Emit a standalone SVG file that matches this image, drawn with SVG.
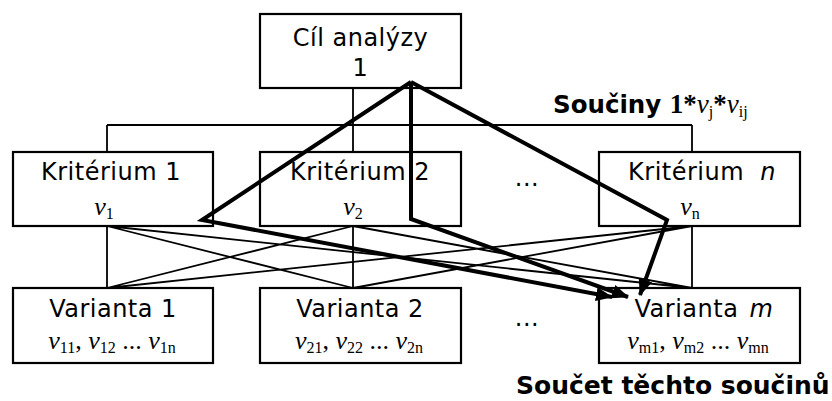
<svg xmlns="http://www.w3.org/2000/svg" width="832" height="401" viewBox="0 0 832 401">
<style>
.box{fill:#fff;stroke:#000;stroke-width:2.2}
.lbl{font-family:"DejaVu Sans",Verdana,sans-serif;font-size:24px;letter-spacing:0.5px;fill:#000;text-anchor:middle}
.val{font-family:"Liberation Serif","Times New Roman",serif;font-size:26px;fill:#000;text-anchor:middle}
.it{font-style:italic}
.sub{font-size:16px;font-style:normal}
.thin{stroke:#000;stroke-width:1.8;fill:none}
.thick{stroke:#000;stroke-width:4;fill:none;stroke-linejoin:miter}
.bold{font-family:"DejaVu Sans",Verdana,sans-serif;font-weight:bold;fill:#000}
</style>
<defs>
<marker id="ah" markerUnits="userSpaceOnUse" markerWidth="18" markerHeight="14" refX="16" refY="7" orient="auto">
<path d="M0,0 L17,7 L0,14 Z" fill="#000"/>
</marker>
</defs>
<g id="connectors">
<path class="thin" d="M353,88 V125 M107,125 H692 M107,125 V152 M353,125 V152 M692,125 V151"/>
<path class="thin" d="M107,226 V288 M353,226 V288 M692,226 V288"/>
<path class="thin" d="M107,226 L353,288 M107,226 L692,288 M353,226 L107,288 M353,226 L692,288 M692,226 L107,288 M692,226 L353,288"/>
</g>
<g id="node-goal"><rect class="box" x="260" y="14" width="201" height="74"/>
<text class="lbl" x="360.5" y="46">Cíl analýzy</text><text class="lbl" x="360.5" y="76">1</text></g>
<g id="node-k1"><rect class="box" x="13" y="152" width="200" height="74"/>
<text class="lbl" x="111" y="180">Kritérium 1</text>
<text class="val" x="104" y="215"><tspan class="it">v</tspan><tspan class="sub" dy="4">1</tspan></text></g>
<g id="node-k2"><rect class="box" x="260" y="152" width="201" height="74"/>
<text class="lbl" x="360" y="180">Kritérium 2</text>
<text class="val" x="353" y="215"><tspan class="it">v</tspan><tspan class="sub" dy="4">2</tspan></text></g>
<g id="node-dots1"><text class="lbl" x="527" y="186">...</text></g>
<g id="node-kn"><rect class="box" x="599" y="152" width="201" height="74"/>
<text class="lbl" x="702" y="180">Kritérium <tspan font-style="italic" dx="8">n</tspan></text>
<text class="val" x="690" y="215"><tspan class="it">v</tspan><tspan class="sub" dy="4">n</tspan></text></g>
<g id="node-v1"><rect class="box" x="13" y="288" width="200" height="75"/>
<text class="lbl" x="113" y="317">Varianta 1</text>
<text class="val" x="112" y="349"><tspan class="it">v</tspan><tspan class="sub" dy="4">11</tspan><tspan dy="-4">, </tspan><tspan class="it">v</tspan><tspan class="sub" dy="4">12</tspan><tspan dy="-4"> ... </tspan><tspan class="it">v</tspan><tspan class="sub" dy="4">1n</tspan></text></g>
<g id="node-v2"><rect class="box" x="260" y="288" width="201" height="75"/>
<text class="lbl" x="360" y="317">Varianta 2</text>
<text class="val" x="359" y="349"><tspan class="it">v</tspan><tspan class="sub" dy="4">21</tspan><tspan dy="-4">, </tspan><tspan class="it">v</tspan><tspan class="sub" dy="4">22</tspan><tspan dy="-4"> ... </tspan><tspan class="it">v</tspan><tspan class="sub" dy="4">2n</tspan></text></g>
<g id="node-dots2"><text class="lbl" x="527" y="326">...</text></g>
<g id="node-vm"><rect class="box" x="599" y="288" width="201" height="75"/>
<text class="lbl" x="704" y="317">Varianta <tspan font-style="italic" dx="3">m</tspan></text>
<text class="val" x="698" y="349"><tspan class="it">v</tspan><tspan class="sub" dy="4">m1</tspan><tspan dy="-4">, </tspan><tspan class="it">v</tspan><tspan class="sub" dy="4">m2</tspan><tspan dy="-4"> ... </tspan><tspan class="it">v</tspan><tspan class="sub" dy="4">mn</tspan></text></g>
<g id="thick-paths">
<path class="thick" d="M411,82 L202,220 L612,297" marker-end="url(#ah)"/>
<path class="thick" d="M411,82 L411,219 L628,297" marker-end="url(#ah)"/>
<path class="thick" d="M411,82 L667,220 L640,295" marker-end="url(#ah)"/>
</g>
<g id="label-products"><text class="bold" x="553" y="113" font-size="24.5">Součiny <tspan font-family="Liberation Serif,serif" font-size="27">1*</tspan><tspan font-family="Liberation Serif,serif" font-style="italic" font-weight="normal" font-size="27">v</tspan><tspan font-family="Liberation Serif,serif" font-weight="normal" font-size="16" dy="4">j</tspan><tspan font-family="Liberation Serif,serif" font-size="27" dy="-4">*</tspan><tspan font-family="Liberation Serif,serif" font-style="italic" font-weight="normal" font-size="27">v</tspan><tspan font-family="Liberation Serif,serif" font-weight="normal" font-size="16" dy="4">ij</tspan></text></g>
<g id="label-sum"><text class="bold" x="516" y="394" font-size="25">Součet těchto součinů</text></g>
</svg>
